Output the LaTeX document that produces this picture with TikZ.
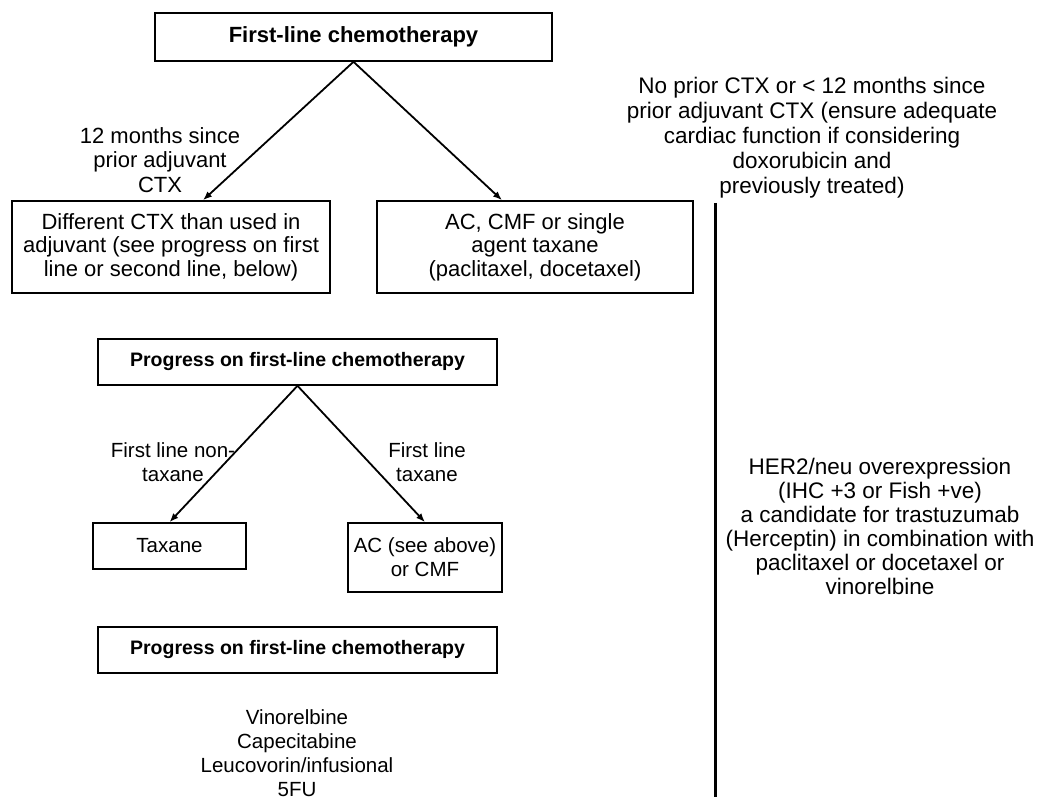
\documentclass[tikz,border=0pt]{standalone}
\usepackage{fontspec}
\setmainfont{Liberation Sans}
\usetikzlibrary{arrows.meta,calc}
\begin{document}
\begin{tikzpicture}[x=1pt,y=-1pt,
  box/.style={draw, line width=1.6pt, inner sep=0pt, align=center, font=\fontsize{22}{23.5}\selectfont},
  smallbox/.style={box, font=\fontsize{20.5}{24}\selectfont},
  titlebox/.style={box, font=\bfseries\fontsize{19.5}{24}\selectfont},
  lbl/.style={align=center, inner sep=0pt, font=\fontsize{22}{24.5}\selectfont},
  smalllbl/.style={lbl, font=\fontsize{20.5}{24}\selectfont},
  arr/.style={line width=1.8pt, -{Latex[length=9pt,width=7pt]}},
  divider/.style={line width=3pt}
]
\useasboundingbox (0,0) rectangle (1037,799);

\node[titlebox, font=\bfseries\fontsize{22}{24}\selectfont, minimum width=397pt, minimum height=48pt] (B1) at (353.5,37) {First-line chemotherapy};
\node[box, minimum width=318pt, minimum height=92pt] (B2) at (171,247) {Different CTX than used in\\adjuvant (see progress on first\\line or second line, below)};
\node[box, minimum width=316pt, minimum height=92pt] (B3) at (535,247) {AC, CMF or single\\agent taxane\\(paclitaxel, docetaxel)};

\node[lbl] (L1) at (160,160) {12 months since\\prior adjuvant\\CTX};
\node[lbl, font=\fontsize{22.5}{25}\selectfont] (R1) at (812,138) {No prior CTX or < 12 months since\\prior adjuvant CTX (ensure adequate\\cardiac function if considering\\doxorubicin and\\previously treated)};

\coordinate (vtop) at (715,203);
\coordinate (vbot) at (715,797);
\draw[divider] (vtop) -- (vbot);

\node[titlebox, minimum width=399pt, minimum height=46pt] (P1) at (297.5,362) {Progress on first-line chemotherapy};
\node[smallbox, minimum width=153pt, minimum height=46pt] (T) at (169.5,546) {Taxane};
\node[smallbox, minimum width=154pt, minimum height=69pt] (AC) at (425,557.5) {AC (see above)\\or CMF};
\node[smalllbl] (L2) at (173,462) {First line non-\\taxane};
\node[smalllbl] (L3) at (427,462) {First line\\taxane};

\node[titlebox, minimum width=399pt, minimum height=46pt] (P2) at (297.5,650) {Progress on first-line chemotherapy};
\node[smalllbl] (V) at (297,753) {Vinorelbine\\Capecitabine\\Leucovorin/infusional\\5FU};

\node[lbl, font=\fontsize{22.5}{24}\selectfont] (H) at (880,526) {HER2/neu overexpression\\(IHC +3 or Fish +ve)\\a candidate for trastuzumab\\(Herceptin) in combination with\\paclitaxel or docetaxel or\\vinorelbine};

\draw[arr] (B1.south) -- ($(B2.north)+(32,0)$);
\draw[arr] (B1.south) -- ($(B3.north)+(-33,0)$);
\draw[arr] (P1.south) -- (T.north);
\draw[arr] (P1.south) -- (AC.north);
\end{tikzpicture}
\end{document}
